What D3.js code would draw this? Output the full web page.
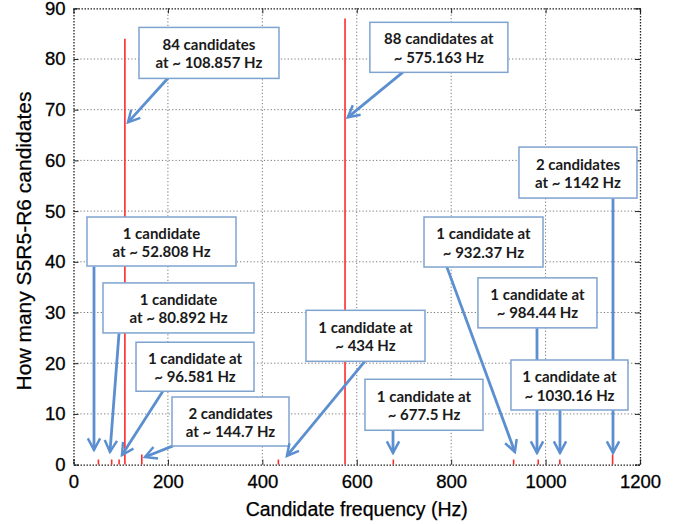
<!DOCTYPE html>
<html>
<head>
<meta charset="utf-8">
<script src="https://cdn.jsdelivr.net/npm/d3@7"></script>
<style>
  html, body { margin: 0; padding: 0; background: #fff; }
  svg { display: block; }
</style>
</head>
<body>
<svg id="chart" width="683" height="524"></svg>
<script>
// ---- data ----
const frequencies = [52.808, 80.892, 96.581, 108.857, 144.7, 434, 575.163, 677.5, 932.37, 984.44, 1030.16, 1142];
const counts      = [1, 1, 1, 84, 2, 1, 88, 1, 1, 1, 1, 2];
const xTicks = [0, 200, 400, 600, 800, 1000, 1200];
const yTicks = [0, 10, 20, 30, 40, 50, 60, 70, 80, 90];
const xLabel = "Candidate frequency (Hz)";
const yLabel = "How many S5R5-R6 candidates";

// annotation texts
const noteLines = [
  ["84 candidates", "at ~ 108.857 Hz"],
  ["88 candidates at", "~ 575.163 Hz"],
  ["2 candidates", "at ~ 1142 Hz"],
  ["1 candidate", "at ~ 52.808 Hz"],
  ["1 candidate", "at ~ 80.892 Hz"],
  ["1 candidate at", "~ 96.581 Hz"],
  ["2 candidates", "at ~ 144.7 Hz"],
  ["1 candidate at", "~ 434 Hz"],
  ["1 candidate at", "~ 932.37 Hz"],
  ["1 candidate at", "~ 984.44 Hz"],
  ["1 candidate at", "~ 1030.16 Hz"],
  ["1 candidate at", "~ 677.5 Hz"]
];

// annotation layout (data units): box centre, arrow tail, arrow head; box size in px
const noteLayout = [
  {cx: 287,    cy: 81.2, w: 140, h: 51, tx: 200,   ty: 76.2, hx: 115.4,  hy: 67.5},
  {cx: 774,    cy: 82.3, w: 138, h: 50, tx: 698,   ty: 77.4, hx: 581,    hy: 68.5},
  {cx: 1068.6, cy: 57.6, w: 118, h: 51, tx: 1142.8,ty: 52.5, hx: 1142.8, hy: 2.3},
  {cx: 186.4,  cy: 44.0, w: 149, h: 49, tx: 43.4,  ty: 39.1, hx: 43.4,   hy: 2.9},
  {cx: 222.4,  cy: 30.9, w: 151, h: 50, tx: 96.4,  ty: 25.9, hx: 77.3,   hy: 2.5},
  {cx: 257.4,  cy: 19.3, w: 118, h: 49, tx: 189.6, ty: 14.5, hx: 102.7,  hy: 1.9},
  {cx: 332.6,  cy: 8.5,  w: 117, h: 49, tx: 210.8, ty: 3.7,  hx: 151.5,  hy: 1.5},
  {cx: 618.5,  cy: 25.4, w: 119, h: 51, tx: 617.5, ty: 20.4, hx: 452,    hy: 1.7},
  {cx: 868.5,  cy: 43.9, w: 119, h: 50, tx: 791,   ty: 38.95,hx: 935,    hy: 2.5},
  {cx: 982.8,  cy: 31.9, w: 119, h: 50, tx: 981.8, ty: 26.9, hx: 981.8,  hy: 2.3},
  {cx: 1050.6, cy: 15.7, w: 117, h: 50, tx: 1030.5,ty: 10.8, hx: 1030.5, hy: 2.3},
  {cx: 742.4,  cy: 11.8, w: 118, h: 51, tx: 676.8, ty: 6.8,  hx: 676.8,  hy: 2.3}
];

// ---- chart ----
const svg = d3.select("#chart");
const W = 683, H = 524;
const margin = {left: 73.5, right: W - 640, top: 8.3, bottom: H - 464.6};
const x = d3.scaleLinear().domain([0, 1200]).range([margin.left, W - margin.right]);
const y = d3.scaleLinear().domain([0, 90]).range([H - margin.bottom, margin.top]);

const axisFont = "'Liberation Sans', Arial, Helvetica, sans-serif";

// grid
const grid = svg.append("g");
grid.selectAll("line.gx").data(xTicks.slice(1, -1)).join("line")
  .attr("x1", d => x(d)).attr("x2", d => x(d))
  .attr("y1", y(0)).attr("y2", y(90))
  .attr("stroke", "#777").attr("stroke-width", 1).attr("stroke-dasharray", "1.2,2.2");
grid.selectAll("line.gy").data(yTicks.slice(1, -1)).join("line")
  .attr("x1", x(0)).attr("x2", x(1200))
  .attr("y1", d => y(d)).attr("y2", d => y(d))
  .attr("stroke", "#777").attr("stroke-width", 1).attr("stroke-dasharray", "1.2,2.2");

// axes
const fmt = d3.format("d");
const ax = svg.append("g");
const axBottom = ax.append("g").attr("transform", `translate(0,${y(0)})`)
  .call(d3.axisBottom(x).tickValues(xTicks).tickFormat(fmt).tickSize(-5).tickPadding(10));
const axTop = ax.append("g").attr("transform", `translate(0,${y(90)})`)
  .call(d3.axisTop(x).tickValues(xTicks).tickSize(-5).tickFormat(""));
const axLeft = ax.append("g").attr("transform", `translate(${x(0)},0)`)
  .call(d3.axisLeft(y).tickValues(yTicks).tickFormat(fmt).tickSize(-5).tickPadding(8));
const axRight = ax.append("g").attr("transform", `translate(${x(1200)},0)`)
  .call(d3.axisRight(y).tickValues(yTicks).tickSize(-5).tickFormat(""));
ax.selectAll(".domain").attr("stroke", "#222").attr("stroke-width", 1.3).attr("stroke-dasharray", "1.5,1.5");
ax.selectAll(".tick line").attr("stroke", "#222");
ax.selectAll(".tick text").attr("font-family", axisFont).attr("font-size", 18.5).attr("fill", "#000")
  .attr("stroke", "#000").attr("stroke-width", 0.3);

// labels
svg.append("text").attr("x", (x(0) + x(1200)) / 2).attr("y", 516)
  .attr("text-anchor", "middle").attr("font-family", axisFont).attr("font-size", 19.5)
  .attr("stroke", "#000").attr("stroke-width", 0.25)
  .text(xLabel);
svg.append("text").attr("transform", `translate(31,241) rotate(-90)`)
  .attr("text-anchor", "middle").attr("font-family", axisFont).attr("font-size", 21)
  .attr("stroke", "#000").attr("stroke-width", 0.25)
  .text(yLabel);

// red stems
svg.append("g").selectAll("line").data(frequencies).join("line")
  .attr("x1", d => x(d)).attr("x2", d => x(d))
  .attr("y1", y(0)).attr("y2", (d, i) => y(counts[i]))
  .attr("stroke", "#ff2a2a").attr("stroke-width", 1.6);

// arrow marker
const defs = svg.append("defs");
defs.append("marker").attr("id", "ah")
  .attr("viewBox", "0 0 10 10").attr("refX", 8.5).attr("refY", 5)
  .attr("markerWidth", 5.5).attr("markerHeight", 5.5).attr("orient", "auto")
  .attr("markerUnits", "strokeWidth")
  .append("path").attr("d", "M1,1 L8.5,5 L1,9").attr("fill", "none")
  .attr("stroke", "#5b8fd0").attr("stroke-width", 1.6).attr("stroke-linejoin", "miter");

const notes = svg.append("g").selectAll("g").data(noteLayout).join("g");
notes.append("line")
  .attr("x1", d => x(d.tx)).attr("y1", d => y(d.ty))
  .attr("x2", d => x(d.hx)).attr("y2", d => y(d.hy))
  .attr("stroke", "#5b8fd0").attr("stroke-width", 2.8)
  .attr("marker-end", "url(#ah)");
notes.append("rect")
  .attr("x", d => x(d.cx) - d.w / 2).attr("y", d => y(d.cy) - d.h / 2)
  .attr("width", d => d.w).attr("height", d => d.h)
  .attr("fill", "#fff").attr("stroke", "#7fa3cf").attr("stroke-width", 1.5);
notes.each(function(d, i) {
  const g = d3.select(this);
  const t = g.append("text").attr("text-anchor", "middle")
    .attr("font-family", "Lato, 'Open Sans', sans-serif").attr("font-weight", "bold")
    .attr("font-size", 15).attr("fill", "#1a1a1a");
  noteLines[i].forEach((line, k) => {
    t.append("tspan").attr("x", x(d.cx)).attr("y", y(d.cy) - 3 + k * 18.5).text(line);
  });
});
</script>
</body>
</html>
